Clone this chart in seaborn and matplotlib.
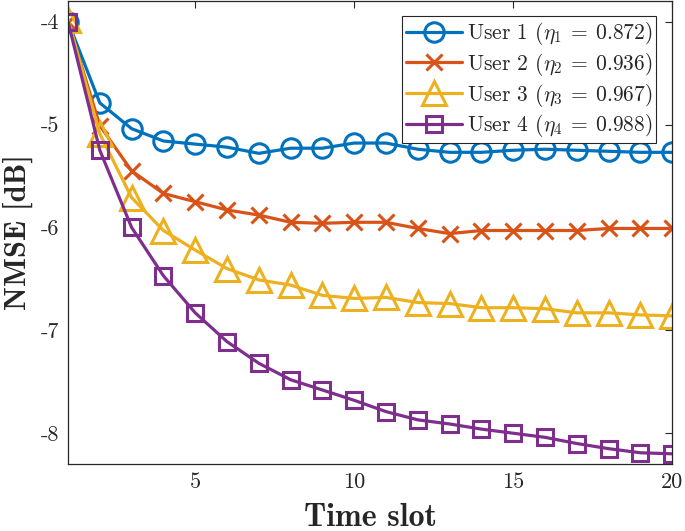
import numpy as np
import pandas as pd
import matplotlib
matplotlib.use("Agg")
import matplotlib.pyplot as plt
import seaborn as sns

# ----------------------------------------------------------
# DATA
# ----------------------------------------------------------
time_slot = list(range(1, 21))

user1 = [-4.00, -4.79, -5.04, -5.16, -5.19, -5.22, -5.28, -5.23, -5.23, -5.18,
         -5.18, -5.24, -5.27, -5.27, -5.25, -5.24, -5.25, -5.26, -5.27, -5.27]
user2 = [-4.00, -5.01, -5.45, -5.67, -5.75, -5.83, -5.88, -5.95, -5.96, -5.95,
         -5.95, -6.01, -6.06, -6.03, -6.03, -6.03, -6.03, -6.01, -6.01, -6.01]
user3 = [-3.98, -5.09, -5.71, -6.03, -6.22, -6.40, -6.51, -6.56, -6.66, -6.69,
         -6.68, -6.73, -6.74, -6.78, -6.78, -6.79, -6.83, -6.83, -6.85, -6.86]
user4 = [-4.00, -5.25, -6.00, -6.47, -6.83, -7.11, -7.32, -7.48, -7.58, -7.68,
         -7.79, -7.87, -7.91, -7.96, -8.00, -8.04, -8.10, -8.15, -8.19, -8.20]

labels = [r"User 1 ($\eta_1\:=\:0.872$)",
          r"User 2 ($\eta_2\:=\:0.936$)",
          r"User 3 ($\eta_3\:=\:0.967$)",
          r"User 4 ($\eta_4\:=\:0.988$)"]

x_ticks = [5, 10, 15, 20]
y_ticks = [-8, -7, -6, -5, -4]

# ----------------------------------------------------------
# STYLE (MATLAB-like)
# ----------------------------------------------------------
sns.set_style("white")
plt.rcParams.update({
    "font.family": "cmr10",
    "mathtext.fontset": "cm",
    "axes.unicode_minus": False,
    "axes.formatter.use_mathtext": True,
    "axes.linewidth": 0.9,
    "axes.edgecolor": "#262626",
    "xtick.direction": "in",
    "ytick.direction": "in",
    "xtick.top": True,
    "ytick.right": True,
    "xtick.major.size": 5,
    "ytick.major.size": 5,
    "xtick.major.width": 0.8,
    "ytick.major.width": 0.8,
    "xtick.color": "#262626",
    "ytick.color": "#262626",
})

colors = ["#0072BD", "#D95319", "#EDB120", "#7E2F8E"]
markers = ["o", "x", "^", "s"]
msizes = [14, 11, 17, 12]

fig = plt.figure(figsize=(6.85, 5.31), dpi=100)
ax = fig.add_axes([0.0993, 0.126, 0.882, 0.872])

series = [user1, user2, user3, user4]
for vals, lab, col, mk, ms in zip(series, labels, colors, markers, msizes):
    df = pd.DataFrame({"slot": time_slot, "nmse": vals})
    sns.lineplot(
        data=df, x="slot", y="nmse",
        color=col, marker=mk, markersize=ms,
        markerfacecolor="none", markeredgecolor=col, markeredgewidth=2.2,
        linewidth=2.3, label=lab, ax=ax,
    )

ax.set_xlim(1, 20)
ax.set_ylim(-8.3, -3.8)
ax.set_xticks(x_ticks)
ax.set_yticks(y_ticks)
ax.set_xticklabels([str(t) for t in x_ticks], fontsize=16)
ax.set_yticklabels([str(t) for t in y_ticks], fontsize=16)
ax.tick_params(axis="both", pad=6)

ax.set_xlabel("Time slot", fontfamily="cmb10", fontsize=23, labelpad=8)
ax.set_ylabel("NMSE [dB]", fontfamily="cmb10", fontsize=22, labelpad=6)

for s in ax.spines.values():
    s.set_visible(True)

leg = ax.legend(
    loc="upper right",
    bbox_to_anchor=(0.974, 0.968),
    fontsize=15.5,
    frameon=True,
    fancybox=False,
    framealpha=1,
    edgecolor="#262626",
    handlelength=2.6,
    handletextpad=0.2,
    borderpad=0.2,
    labelspacing=0.17,
    borderaxespad=0,
)
leg.get_frame().set_linewidth(0.8)

plt.savefig("out.png", dpi=100)
